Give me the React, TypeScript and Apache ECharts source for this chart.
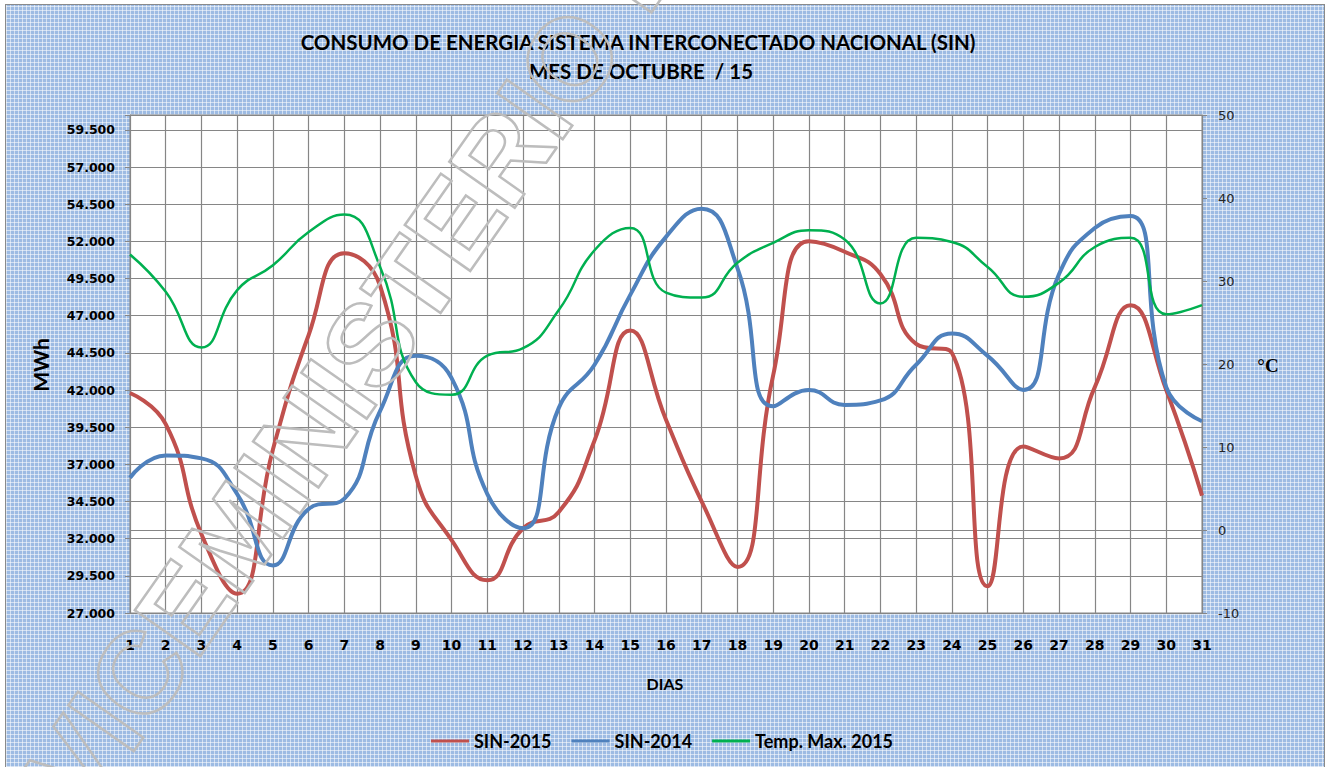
import React, { useEffect, useRef } from "react";
import * as echarts from "echarts";

const days = ["1","2","3","4","5","6","7","8","9","10","11","12","13","14","15","16","17","18","19","20","21","22","23","24","25","26","27","28","29","30","31"];
const sin2015 = [41800, 39700, 32300, 28300, 38000, 45700, 51200, 49000, 36200, 31900, 29200, 32700, 33800, 38600, 46000, 40000, 34500, 30100, 43000, 52000, 51300, 49800, 45100, 44500, 28800, 38200, 37400, 42200, 47700, 42000, 34900];
const sin2014 = [36100, 37600, 37400, 35000, 30200, 34000, 34700, 40600, 44300, 42800, 35000, 32700, 40800, 43700, 48400, 52300, 54200, 50200, 40900, 42000, 41000, 41300, 43700, 45800, 44300, 42000, 49800, 52900, 53700, 42200, 39900];
const tempMax2015 = [33.2, 28.7, 22.0, 28.9, 31.9, 35.9, 38.0, 31.7, 17.8, 16.3, 21.0, 21.9, 26.5, 33.7, 36.4, 28.6, 28.0, 32.2, 34.6, 36.1, 35.0, 27.3, 35.2, 34.7, 31.7, 28.1, 29.8, 34.1, 35.2, 26.0, 27.1];
const seriesNames = ["SIN-2015", "SIN-2014", "Temp. Max. 2015"];
const titleLines = ["CONSUMO DE ENERGIA SISTEMA INTERCONECTADO NACIONAL (SIN)", "MES DE OCTUBRE  / 15"];
const watermarkText = "VICEMINISTERIO DE";

const GRID = "#868686";

export default function App() {
  const ref = useRef<HTMLDivElement>(null);
  useEffect(() => {
    const chart = echarts.init(ref.current!, null, { renderer: "svg" });
    chart.setOption({
      animation: false,
      backgroundColor: "transparent",
      grid: {
        left: 130, right: 127, top: 115, bottom: 154,
        show: true, backgroundColor: "#ffffff", borderColor: GRID, borderWidth: 1,
      },
      legend: {
        data: seriesNames,
        left: 426, top: 727,
        icon: "rect", itemWidth: 38, itemHeight: 3, itemGap: 20,
        textStyle: { fontFamily: "Lato", fontWeight: "bold", fontSize: 18, color: "#000" },
      },
      xAxis: {
        type: "category",
        data: days,
        boundaryGap: false,
        axisLine: { show: true, lineStyle: { color: GRID, width: 1 } },
        axisTick: { show: true, length: 6, lineStyle: { color: GRID } },
        axisLabel: { interval: 0, margin: 25, fontFamily: "DejaVu Sans", fontWeight: "bold", fontSize: 14, color: "#000" },
        splitLine: { show: true, interval: 0, lineStyle: { color: GRID, width: 1.2 } },
      },
      yAxis: [
        {
          type: "value", min: 27000, max: 60500, interval: 2500,
          axisLine: { show: true, lineStyle: { color: GRID, width: 1 } },
          axisTick: { show: true, length: 5, lineStyle: { color: GRID } },
          axisLabel: {
            margin: 15, fontFamily: "DejaVu Sans", fontWeight: "bold", fontSize: 12.5, color: "#000",
            formatter: (v: number) => (v > 59500 ? "" : (v / 1000).toFixed(3)),
          },
          splitLine: { show: true, lineStyle: { color: GRID, width: 1.2 } },
        },
        {
          type: "value", min: -10, max: 50, interval: 10, position: "right",
          axisLine: { show: true, lineStyle: { color: GRID, width: 1 } },
          axisTick: { show: true, length: 5, lineStyle: { color: GRID } },
          axisLabel: { margin: 16, fontFamily: "DejaVu Sans", fontSize: 13, color: "#262626" },
          splitLine: { show: false },
        },
      ],
      series: [
        { name: seriesNames[0], type: "line", data: sin2015, smooth: 0.5, showSymbol: false, yAxisIndex: 0, color: "#C0504D", lineStyle: { width: 4, color: "#C0504D" } },
        { name: seriesNames[1], type: "line", data: sin2014, smooth: 0.5, showSymbol: false, yAxisIndex: 0, color: "#4F81BD", lineStyle: { width: 4, color: "#4F81BD" } },
        { name: seriesNames[2], type: "line", data: tempMax2015, smooth: 0.5, showSymbol: false, yAxisIndex: 1, color: "#00B050", lineStyle: { width: 2.5, color: "#00B050" } },
      ],
      graphic: [
        { type: "text", x: 638, y: 42, style: { text: titleLines[0], align: "center", verticalAlign: "middle", font: "bold 20.5px Lato", fill: "#000" }, z: 50 },
        { type: "text", x: 641, y: 71, style: { text: titleLines[1], align: "center", verticalAlign: "middle", font: "bold 20.5px Lato", fill: "#000" }, z: 50 },
        { type: "text", x: 40, y: 365, rotation: Math.PI / 2, style: { text: "MWh", align: "center", verticalAlign: "middle", font: "bold 21px Lato", fill: "#000" }, z: 50 },
        { type: "text", x: 1268, y: 365, style: { text: "°C", align: "center", verticalAlign: "middle", font: "bold 19px 'Liberation Serif'", fill: "#000" }, z: 50 },
        { type: "text", x: 665, y: 683, style: { text: "DIAS", align: "center", verticalAlign: "middle", font: "bold 16px Lato", fill: "#000" }, z: 50 },
        {
          type: "text", x: 52, y: 798, rotation: 0.96, z: 100, silent: true,
          style: { text: watermarkText, align: "left", verticalAlign: "middle", font: "bold 116px 'Liberation Sans'", fill: "rgba(0,0,0,0)", stroke: "#bdbdbd", lineWidth: 2.5 },
        },
      ],
    });
    return () => chart.dispose();
  }, []);
  const line = "rgba(255,255,255,0.55)";
  return (
    <div style={{ position: "fixed", left: 0, top: 0, width: 1329, height: 767, background: "#fff", overflow: "hidden" }}>
      <div
        style={{
          position: "absolute", left: 5, top: 4, width: 1320, height: 800, boxSizing: "border-box",
          border: "1px solid #8a8a8a",
          backgroundColor: "#9dbbe3",
          backgroundImage: `repeating-linear-gradient(0deg, ${line} 0px, ${line} 1px, transparent 1px, transparent 4px), repeating-linear-gradient(90deg, ${line} 0px, ${line} 1px, transparent 1px, transparent 4px)`,
        }}
      />
      <div ref={ref} style={{ position: "absolute", left: 0, top: 0, width: 1329, height: 767 }} />
    </div>
  );
}
